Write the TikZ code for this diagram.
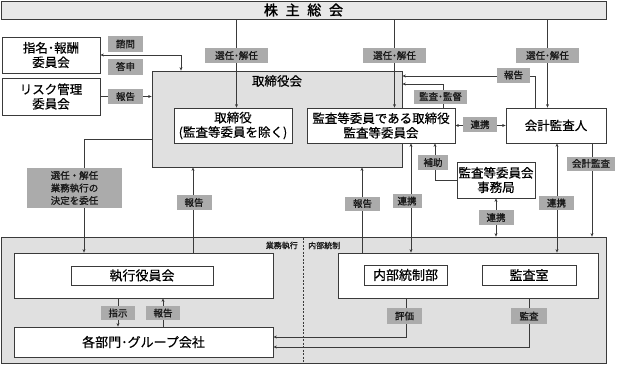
\documentclass[tikz,border=0pt]{standalone}
\usepackage{fontspec}
\setmainfont{Noto Sans CJK JP}[FakeBold=0.5]
\newfontfamily\lblfont{Noto Sans CJK JP}[FakeBold=1.2]
\newfontfamily\topfont{Noto Sans CJK JP}[FakeBold=1.6]
\usetikzlibrary{arrows.meta,calc}
\pgfdeclarelayer{back}
\pgfdeclarelayer{lines}
\pgfsetlayers{back,lines,main}
\definecolor{areagray}{HTML}{E0E0E0}
\definecolor{topgray}{HTML}{E8E8E8}
\definecolor{lblgray}{HTML}{ABABAB}
\definecolor{edge}{HTML}{3A3A3A}
\begin{document}
\begin{tikzpicture}[x=1pt,y=-1pt,
  box/.style={draw=edge, fill=white, line width=0.8pt, inner sep=0pt, align=center,
    font=\fontsize{12.5}{14.5}\selectfont},
  lowbox/.style={box, font=\fontsize{13}{15}\selectfont},
  area/.style={draw=edge, fill=areagray, line width=0.8pt, inner sep=0pt},
  lbl/.style={fill=lblgray, inner sep=0pt, minimum width=35pt, minimum height=15pt,
    align=center, text=black!90, font=\lblfont\fontsize{9.5}{11.5}\selectfont},
  small/.style={inner sep=0pt, font=\lblfont\fontsize{8}{9}\selectfont, text=black!90},
  conn/.style={draw=edge, line width=0.7pt},
  arr/.style={conn, -{Stealth[length=3.5pt,width=3pt]}},
  darr/.style={conn, {Stealth[length=3.5pt,width=3pt]}-{Stealth[length=3.5pt,width=3pt]}}
]
\useasboundingbox (0,0) rectangle (619,365);

% ---------- background areas ----------
\begin{pgfonlayer}{back}
\node[area, fill=topgray, minimum width=605pt, minimum height=18pt] (top) at (303.5,10)
  {\topfont\fontsize{14}{16}\selectfont 株\hspace{0.55em}主\hspace{0.55em}総\hspace{0.55em}会};
\node[area, minimum width=250pt, minimum height=96pt] (board) at (277,119) {};
\node[area, minimum width=605pt, minimum height=126pt] (low) at (303.5,300) {};
\draw[edge, line width=0.7pt, dashed, dash pattern=on 2pt off 1.5pt] (303,237.5) coordinate (dv1) -- (303,362.5) coordinate (dv2);
\end{pgfonlayer}

\node[font=\fontsize{12.5}{14.5}\selectfont, inner sep=0pt] (boardlbl) at (277,81) {取締役会};
\node[small, anchor=east] (gyomu) at (298,245.5) {業務執行};
\node[small, anchor=west] (naibu) at (308,245.5) {内部統制};

% ---------- boxes ----------
\node[box, minimum width=98pt, minimum height=36pt] (nom) at (51,55) {指名･報酬\\委員会};
\node[box, minimum width=98pt, minimum height=37pt] (risk) at (51,96.5) {リスク管理\\委員会};
\node[box, minimum width=118pt, minimum height=35pt] (tor) at (233,125.5) {取締役\\(監査等委員を除く)};
\node[box, minimum width=148pt, minimum height=35pt] (aud) at (381,125.5) {監査等委員である取締役\\監査等委員会};
\node[box, minimum width=100pt, minimum height=35pt] (acc) at (556,125.5) {会計監査人};
\node[box, minimum width=78pt, minimum height=36pt] (jim) at (496,180) {監査等委員会\\事務局};

\node[box, minimum width=259pt, minimum height=45pt] (exo) at (143.5,275.5) {};
\node[lowbox, minimum width=142pt, minimum height=19pt] (exec) at (142,275.5) {執行役員会};
\node[lowbox, minimum width=259pt, minimum height=30pt] (dep) at (143.5,342) {各部門･グループ会社};
\node[box, minimum width=260pt, minimum height=45pt] (ico) at (468,275.5) {};
\node[lowbox, minimum width=83pt, minimum height=20pt] (icd) at (405.5,275) {内部統制部};
\node[lowbox, minimum width=94pt, minimum height=20pt] (kan) at (529,275) {監査室};

% ---------- labels ----------
\node[lbl, minimum height=16pt] (shimon) at (125.5,44) {諮問};
\node[lbl, minimum height=16pt] (toshin) at (125.5,66.5) {答申};
\node[lbl] (rep1) at (125.5,96.5) {報告};
\node[lbl, minimum width=63pt] (sen1) at (236.5,55.5) {選任･解任};
\node[lbl, minimum width=63pt] (sen2) at (394.5,55.5) {選任･解任};
\node[lbl, minimum width=63pt] (sen3) at (547.5,55.5) {選任･解任};
\node[lbl, minimum width=33pt] (rep2) at (513.5,75) {報告};
\node[lbl, minimum width=53pt, minimum height=14pt] (kansatoku) at (440.5,96.5) {監査･監督};
\node[lbl, minimum width=34pt] (ren1) at (480,124.5) {連携};
\node[lbl, minimum width=30pt] (hojo) at (433,162.5) {補助};
\node[lbl, minimum width=48pt, minimum height=14pt] (kaikei) at (591,163.5) {会計監査};
\node[lbl] (ren2) at (496,217.5) {連携};
\node[lbl, minimum height=14pt] (ren3) at (556.5,203) {連携};
\node[lbl, minimum height=14pt] (rep3) at (362.5,203.5) {報告};
\node[lbl, minimum height=14pt, minimum width=29pt] (ren4) at (407,201) {連携};
\node[lbl, minimum width=95pt, minimum height=40pt, font=\lblfont\fontsize{9.5}{12.5}\selectfont] (inin) at (74.5,188) {選任・解任\\業務執行の\\決定を委任};
\node[lbl] (rep4) at (194,202.5) {報告};
\node[lbl, minimum width=34pt, minimum height=14pt] (shiji) at (118,313) {指示};
\node[lbl, minimum width=34pt, minimum height=14pt] (rep5) at (163,313) {報告};
\node[lbl, minimum width=35pt, minimum height=16pt] (hyoka) at (404.5,316) {評価};
\node[lbl, minimum width=36pt, minimum height=16pt] (kansa) at (529,316) {監査};

% ---------- connectors ----------
\begin{pgfonlayer}{lines}
\coordinate (c1) at (181,55);
\coordinate (r1) at (535,76);
\coordinate (k1) at (443,84);
\coordinate (h1) at (435,180);
\coordinate (x592) at (592,200);
\coordinate (x557) at (557,200);
\coordinate (x362) at (362,200);
\coordinate (x411) at (411,200);
\coordinate (d1) at (84,139);
\coordinate (x193) at (193,200);
\coordinate (x118) at (118,310);
\coordinate (x163) at (163,310);
\coordinate (e1) at (406,337);
\coordinate (e2) at (529,347);

\draw[arr] (top.south -| sen1) -- (sen1 |- tor.north);
\draw[arr] (top.south -| sen2) -- (sen2 |- aud.north);
\draw[arr] (top.south -| sen3) -- (sen3 |- acc.north);
\draw[darr] (nom.east) -- (c1) -- (c1 |- board.north);
\draw[arr] (risk.east) -- (board.west |- risk.east);
\draw[arr] (acc.north -| r1) -- (r1) -- (board.east |- r1);
\draw[arr] (aud.north -| k1) -- (k1) -- (board.east |- k1);
\draw[darr] (aud.east) -- (acc.west);
\draw[arr] (jim.west |- h1) -- (h1) -- (h1 |- aud.south);
\draw[darr] (jim.south) -- (jim.south |- low.north);
\draw[arr] (acc.south -| x592) -- (x592 |- low.north);
\draw[darr] (acc.south -| x557) -- (x557 |- ico.north);
\draw[arr] (ico.north -| x362) -- (x362 |- board.south);
\draw[darr] (aud.south -| x411) -- (x411 |- ico.north);
\draw[arr] (board.west |- d1) -- (d1) -- (d1 |- exo.north);
\draw[arr] (exo.north -| x193) -- (x193 |- board.south);
\draw[arr] (exo.south -| x118) -- (x118 |- dep.north);
\draw[arr] (dep.north -| x163) -- (x163 |- exo.south);
\draw[arr] (icd.south -| e1) -- (e1) -- (dep.east |- e1);
\draw[arr] (kan.south -| e2) -- (e2) -- (dep.east |- e2);
\end{pgfonlayer}
\end{tikzpicture}
\end{document}
